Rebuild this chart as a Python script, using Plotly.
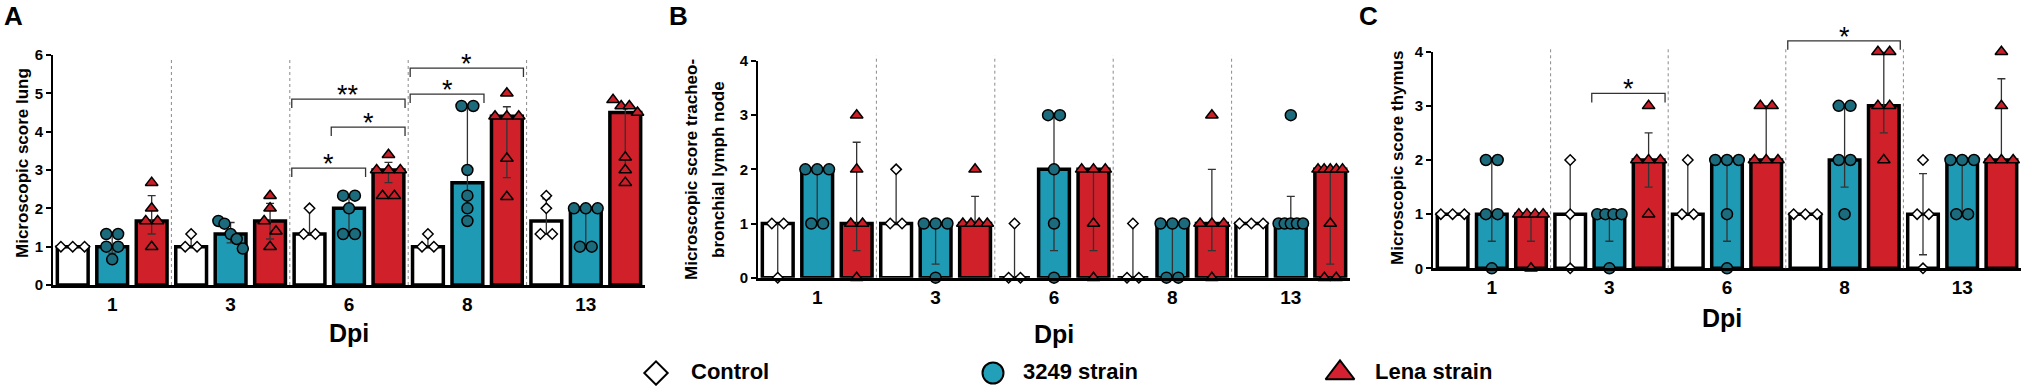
import numpy as np
import plotly.graph_objects as go

W, H = 2021, 386

# ---------------- data ----------------
dpi_labels = ["1", "3", "6", "8", "13"]
group_names = ["Control", "3249 strain", "Lena strain"]

# Panel A: lung
A_ctrl_pts = [[1, 1, 1], [1.33, 1, 1], [2, 1.33, 1.33], [1.33, 1, 1], [2.33, 2, 1.33, 1.33]]
A_ctrl_med = [1, 1, 1.33, 1, 1.67]
A_ctrl_lo = [1, 1, 1.33, 1, 1.33]
A_ctrl_hi = [1, 1.33, 2, 1.33, 2.25]
A_3249_pts = [[1.33, 1.33, 1, 1, 0.67], [1.67, 1.6, 1.33, 1.2, 0.95], [2.33, 2.33, 2, 1.33, 1.33],
              [4.67, 4.67, 3, 2.33, 2, 1.67], [2, 2, 2, 1, 1]]
A_3249_med = [1, 1.33, 2, 2.67, 2]
A_3249_lo = [0.83, 1.1, 1.33, 1.92, 1]
A_3249_hi = [1.33, 1.63, 2.33, 4.67, 2]
A_lena_pts = [[2.67, 2, 1.67, 1.67, 1], [2.33, 2, 1.67, 1.4, 1], [3.4, 3, 3, 3, 2.33, 2.33],
              [5, 4.4, 4.4, 4.4, 3.3, 2.3], [4.83, 4.67, 4.67, 4.5, 3.33, 3, 2.67]]
A_lena_med = [1.67, 1.67, 3, 4.4, 4.5]
A_lena_lo = [1.33, 1.2, 2.67, 2.8, 3]
A_lena_hi = [2.33, 2.13, 3.2, 4.65, 4.67]

# Panel B: tracheobronchial lymph node
B_ctrl_pts = [[1, 1, 0], [2, 1, 1], [1, 0, 0], [1, 0, 0], [1, 1, 1]]
B_ctrl_med = [1, 1, 0, 0, 1]
B_ctrl_lo = [0, 1, 0, 0, 1]
B_ctrl_hi = [1, 2, 1, 1, 1]
B_3249_pts = [[2, 2, 2, 1, 1], [1, 1, 1, 0], [3, 3, 2, 1, 0], [1, 1, 1, 0, 0], [3, 1, 1, 1, 1, 1]]
B_3249_med = [2, 1, 2, 1, 1]
B_3249_lo = [1, 0.25, 0.5, 0, 1]
B_3249_hi = [2, 1, 3, 1, 1.5]
B_lena_pts = [[3, 2, 1, 1, 0], [2, 1, 1, 1, 1], [2, 2, 2, 1, 0], [3, 1, 1, 1, 0], [2, 2, 2, 2, 2, 1, 0, 0]]
B_lena_med = [1, 1, 2, 1, 2]
B_lena_lo = [0.5, 1, 0.5, 0.5, 0.25]
B_lena_hi = [2.5, 1.5, 2, 2, 2]

# Panel C: thymus
C_ctrl_pts = [[1, 1, 1], [2, 1, 0], [2, 1, 1], [1, 1, 1], [2, 1, 1, 0]]
C_ctrl_med = [1, 1, 1, 1, 1]
C_ctrl_lo = [1, 0, 1, 1, 0.25]
C_ctrl_hi = [1, 2, 2, 1, 1.75]
C_3249_pts = [[2, 2, 1, 1, 0], [1, 1, 1, 1, 0], [2, 2, 2, 1, 0], [3, 3, 2, 2, 1], [2, 2, 2, 1, 1]]
C_3249_med = [1, 1, 2, 2, 2]
C_3249_lo = [0.5, 0.5, 0.5, 1.5, 1]
C_3249_hi = [2, 1, 2, 3, 2]
C_lena_pts = [[1, 1, 1, 1, 0], [3, 2, 2, 2, 1], [3, 3, 2, 2, 2], [4, 4, 3, 3, 2], [4, 3, 2, 2, 2]]
C_lena_med = [1, 2, 2, 3, 2]
C_lena_lo = [0.5, 1.5, 2, 2.5, 2]
C_lena_hi = [1, 2.5, 3, 4, 3.5]

# significance: (dpi index, group from, group to, label)
A_sig = [(2, 0, 2, "**"), (2, 1, 2, "*"), (2, 0, 1, "*"), (3, 0, 2, "*"), (3, 0, 1, "*")]
C_sig = [(1, 1, 2, "*"), (3, 0, 2, "*")]

# ---------------- style / layout ----------------
FONT = "Arial, Liberation Sans, Helvetica, sans-serif"
BAR_COLORS = ["#ffffff", "#1f9ab4", "#d0202a"]
PT_COLORS = ["#ffffff", "#1b6b7c", "#c81f29"]
PT_SYMBOLS = ["diamond", "circle", "triangle-up"]
PT_SIZES = [8, 11, 11]

# bracket heights in data units (layout positions)
A_sig_y = [4.85, 4.12, 3.05, 5.66, 4.98]
C_sig_y = [3.23, 4.2]

panels = [
    dict(name="A", ax="", xpx=(53, 645), y0=285.0, ytop=55.0, ymax=6, title=["Microscopic score lung"],
         title_x=[23], title_y=163, sep_top=5.92, dpi_xy=(349, 333), letter_x=2,
         data=[(A_ctrl_pts, A_ctrl_med, A_ctrl_lo, A_ctrl_hi), (A_3249_pts, A_3249_med, A_3249_lo, A_3249_hi),
               (A_lena_pts, A_lena_med, A_lena_lo, A_lena_hi)],
         sig=A_sig, sig_y=A_sig_y),
    dict(name="B", ax="2", xpx=(758, 1350), y0=277.7, ytop=61.0, ymax=4,
         title=["Microscopic score tracheo-", "bronchial lymph node"], title_x=[691, 718], title_y=170,
         sep_top=4.1, dpi_xy=(1054, 334), letter_x=667,
         data=[(B_ctrl_pts, B_ctrl_med, B_ctrl_lo, B_ctrl_hi), (B_3249_pts, B_3249_med, B_3249_lo, B_3249_hi),
               (B_lena_pts, B_lena_med, B_lena_lo, B_lena_hi)],
         sig=[], sig_y=[]),
    dict(name="C", ax="3", xpx=(1433, 2021), y0=268.3, ytop=51.7, ymax=4, title=["Microscopic score thymus"],
         title_x=[1397], title_y=158, sep_top=4.06, dpi_xy=(1722, 318), letter_x=1357,
         data=[(C_ctrl_pts, C_ctrl_med, C_ctrl_lo, C_ctrl_hi), (C_3249_pts, C_3249_med, C_3249_lo, C_3249_hi),
               (C_lena_pts, C_lena_med, C_lena_lo, C_lena_hi)],
         sig=C_sig, sig_y=C_sig_y),
]


def jitter(vals, tol):
    vals = np.asarray(vals, float)
    order = np.argsort(-vals, kind="stable")
    offs = np.zeros(len(vals))
    clusters, cur = [], [order[0]]
    for i in order[1:]:
        if abs(vals[cur[-1]] - vals[i]) <= tol:
            cur.append(i)
        else:
            clusters.append(cur)
            cur = [i]
    clusters.append(cur)
    for c in clusters:
        k = len(c)
        if k > 1:
            sp = min(0.3, 0.62 / (k - 1))
            for j, i in enumerate(c):
                offs[i] = sp * (j - (k - 1) / 2)
    return offs


fig = go.Figure()
shapes, annotations = [], []
layout = {}

for p in panels:
    xa, ya = "x" + p["ax"], "y" + p["ax"]
    x0p, x1p = p["xpx"]
    ppu = (p["y0"] - p["ytop"]) / p["ymax"]  # pixels per unit
    dom_x = [x0p / W, x1p / W]
    dom_y = [1 - p["y0"] / H, 1 - p["ytop"] / H]

    def to_paper_y(v, p=p, ppu=ppu):
        return 1 - (p["y0"] - v * ppu) / H

    for k in range(3):
        pts, med, lo, hi = p["data"][k]
        slots = [3 * g + k for g in range(5)]
        fig.add_trace(go.Bar(
            x=slots, y=med, width=0.78, xaxis=xa, yaxis=ya,
            marker=dict(color=BAR_COLORS[k], line=dict(color="black", width=3.5)),
            error_y=dict(type="data", symmetric=False,
                         array=[h - m for h, m in zip(hi, med)],
                         arrayminus=[m - l for m, l in zip(med, lo)],
                         color="#333333", thickness=1.3, width=4),
            hoverinfo="skip", showlegend=False))
        xs, ys = [], []
        tol = 11.0 / ppu
        for g in range(5):
            offs = jitter(pts[g], tol)
            xs += list(3 * g + k + offs)
            ys += list(pts[g])
        fig.add_trace(go.Scatter(
            x=xs, y=ys, mode="markers", xaxis=xa, yaxis=ya, cliponaxis=False,
            marker=dict(symbol=PT_SYMBOLS[k], size=PT_SIZES[k], color=PT_COLORS[k],
                        line=dict(color="black", width=1.5)),
            hoverinfo="skip", showlegend=False))

    key = "" if p["ax"] == "" else p["ax"]
    layout["xaxis" + key] = dict(domain=dom_x, range=[-0.5, 14.5], anchor=ya, showline=True, linewidth=3,
                                 linecolor="black", ticks="", showgrid=False, zeroline=False, automargin=False,
                                 tickvals=[1, 4, 7, 10, 13], ticktext=dpi_labels, fixedrange=True,
                                 tickfont=dict(family=FONT, size=19, color="black", weight="bold"))
    layout["yaxis" + key] = dict(domain=dom_y, range=[0, p["ymax"]], anchor=xa, showline=True, linewidth=2,
                                 linecolor="black", ticks="outside", ticklen=5, tickwidth=2, tickcolor="black",
                                 showgrid=False, zeroline=False, automargin=False, fixedrange=True,
                                 tickvals=list(range(p["ymax"] + 1)),
                                 tickfont=dict(family=FONT, size=15, color="black", weight="bold"))

    # dotted separators
    for b in [2.5, 5.5, 8.5, 11.5]:
        shapes.append(dict(type="line", xref=xa, yref="paper", x0=b, x1=b, y0=to_paper_y(0),
                           y1=to_paper_y(p["sep_top"]), line=dict(color="#8a8a8a", width=1, dash="dot")))

    # significance brackets
    drop = 9.0 / H
    for (g, s1, s2, lab), yv in zip(p["sig"], p["sig_y"]):
        xl = 3 * g + s1 - 0.45
        xr = 3 * g + s2 + 0.42
        yp = to_paper_y(yv)
        shapes.append(dict(type="path", xref=xa, yref="paper",
                           path=f"M {xl},{yp - drop} L {xl},{yp} L {xr},{yp} L {xr},{yp - drop}",
                           line=dict(color="#333333", width=1.3)))
        annotations.append(dict(x=(xl + xr) / 2, y=yp, xref=xa, yref="paper", text=lab, showarrow=False,
                                xanchor="center", yanchor="middle", yshift=4,
                                font=dict(family=FONT, size=27, color="black")))

    # y titles
    for t, tx in zip(p["title"], p["title_x"]):
        annotations.append(dict(x=tx / W, y=1 - p["title_y"] / H, xref="paper", yref="paper", text=t,
                                textangle=-90, showarrow=False, xanchor="center", yanchor="middle",
                                font=dict(family=FONT, size=17, color="black", weight="bold")))
    # Dpi title
    annotations.append(dict(x=p["dpi_xy"][0] / W, y=1 - p["dpi_xy"][1] / H, xref="paper", yref="paper",
                            text="Dpi", showarrow=False, xanchor="center", yanchor="middle",
                            font=dict(family=FONT, size=25, color="black", weight="bold")))
    # panel letter
    annotations.append(dict(x=p["letter_x"] / W, y=1 - 16 / H, xref="paper", yref="paper", text=p["name"],
                            showarrow=False, xanchor="left", yanchor="middle",
                            font=dict(family=FONT, size=26, color="black", weight="bold")))

# legend (overlay pixel axis)
leg_x = [656, 993, 1340]
leg_text_x = [690, 1022, 1374]
leg_y = 373
leg_sizes = [18, 21, 25]
leg_colors = ["#ffffff", "#22a0b9", "#d42030"]
for k in range(3):
    fig.add_trace(go.Scatter(x=[leg_x[k]], y=[leg_y], mode="markers", xaxis="x4", yaxis="y4", cliponaxis=False,
                             marker=dict(symbol=PT_SYMBOLS[k], size=leg_sizes[k], color=leg_colors[k],
                                         line=dict(color="black", width=2)),
                             hoverinfo="skip", showlegend=False))
    annotations.append(dict(x=leg_text_x[k] / W, y=1 - 385 / H, xref="paper", yref="paper", text=group_names[k],
                            showarrow=False, xanchor="left", yanchor="bottom", borderpad=0,
                            font=dict(family=FONT, size=22, color="black", weight="bold")))
layout["xaxis4"] = dict(domain=[0, 1], range=[0, W], visible=False, anchor="y4", automargin=False, fixedrange=True)
layout["yaxis4"] = dict(domain=[0, 1], range=[H, 0], visible=False, anchor="x4", automargin=False, fixedrange=True)

fig.update_layout(width=W, height=H, margin=dict(l=0, r=0, t=0, b=0, autoexpand=False), paper_bgcolor="white",
                  plot_bgcolor="rgba(0,0,0,0)", showlegend=False, barmode="overlay", hovermode=False,
                  shapes=shapes, annotations=annotations, **layout)
fig.write_html("out.html", config={"displayModeBar": False, "staticPlot": True},
               post_script="document.body.style.margin='0px';document.body.style.padding='0px';"
                           "document.body.style.overflow='hidden';")
